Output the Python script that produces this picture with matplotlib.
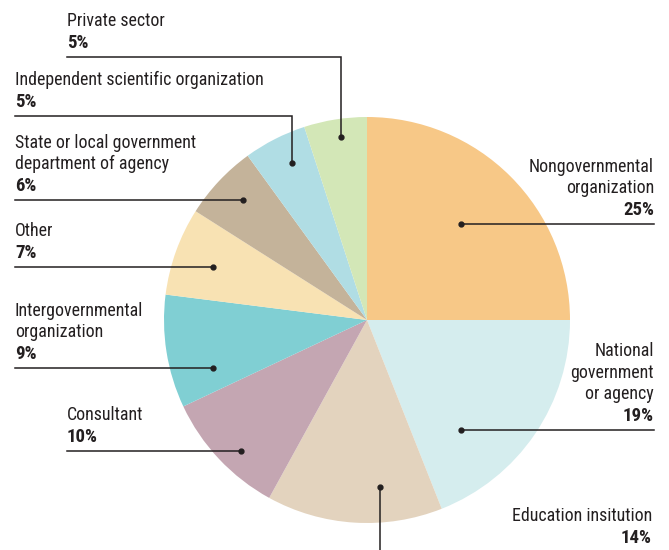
import matplotlib.pyplot as plt

# data
categories = ["Nongovernmental\norganization", "National\ngovernment\nor agency",
              "Education insitution", "Consultant", "Intergovernmental\norganization",
              "Other", "State or local government\ndepartment of agency",
              "Independent scientific organization", "Private sector"]
shares = [25, 19, 14, 10, 9, 7, 6, 5, 5]
colors = ["#F7C887", "#D5EDEE", "#E3D3BE", "#C4A6B2", "#80CFD3",
          "#F8E2B3", "#C4B39A", "#B0DDE4", "#D3E7B7"]

# label layout in pixels (top-left origin): text x, align, leader y, dot, end of leader
layout = [
    dict(tx=654, ha="right", ly=224, dot=(461, 224), path=[(654, 224)]),
    dict(tx=654, ha="right", ly=430, dot=(461, 430), path=[(654, 430)]),
    dict(tx=652, ha="right", ly=552, dot=(380, 487), path=[(380, 552)]),
    dict(tx=67, ha="left", ly=451, dot=(241, 451), path=[(67, 451)]),
    dict(tx=15, ha="left", ly=368, dot=(213, 368), path=[(15, 368)]),
    dict(tx=15, ha="left", ly=267, dot=(213, 267), path=[(15, 267)]),
    dict(tx=15, ha="left", ly=200, dot=(243, 200), path=[(15, 200)]),
    dict(tx=15, ha="left", ly=116, dot=(292, 163), path=[(292, 116), (15, 116)]),
    dict(tx=67, ha="left", ly=57, dot=(341, 137), path=[(341, 57), (67, 57)]),
]

W, H = 669, 550
fam = ["Roboto Condensed", "DejaVu Sans"]
ink = "#231F20"

fig = plt.figure(figsize=(W / 100, H / 100), dpi=100)
ax = fig.add_axes([0, 0, 1, 1])

ax.pie(shares, colors=colors, startangle=90, counterclock=False,
       center=(367, H - 320), radius=203, wedgeprops=dict(linewidth=0))

pitch = 21.6
for name, pct, lay in zip(categories, shares, layout):
    pct_y = lay["ly"] - 14
    if lay["path"][0][1] == 552:
        pct_y = 538
    lines = name.split("\n")
    for i, line in enumerate(lines):
        y = pct_y - pitch * (len(lines) - i)
        ax.text(lay["tx"], H - y, line, ha=lay["ha"], va="center",
                fontsize=12.9, family=fam, color=ink)
    ax.text(lay["tx"], H - pct_y, f"{pct}%", ha=lay["ha"], va="center",
            fontsize=13.5, family=fam, weight="bold", color=ink)
    pts = [lay["dot"]] + lay["path"]
    ax.plot([p[0] for p in pts], [H - p[1] for p in pts], color=ink, lw=1.1,
            solid_joinstyle="miter")
    ax.plot(lay["dot"][0], H - lay["dot"][1], "o", color=ink, ms=3.5)

ax.set_xlim(0, W)
ax.set_ylim(0, H)
ax.set_aspect("equal")
ax.axis("off")
fig.savefig("out.png", dpi=100)
